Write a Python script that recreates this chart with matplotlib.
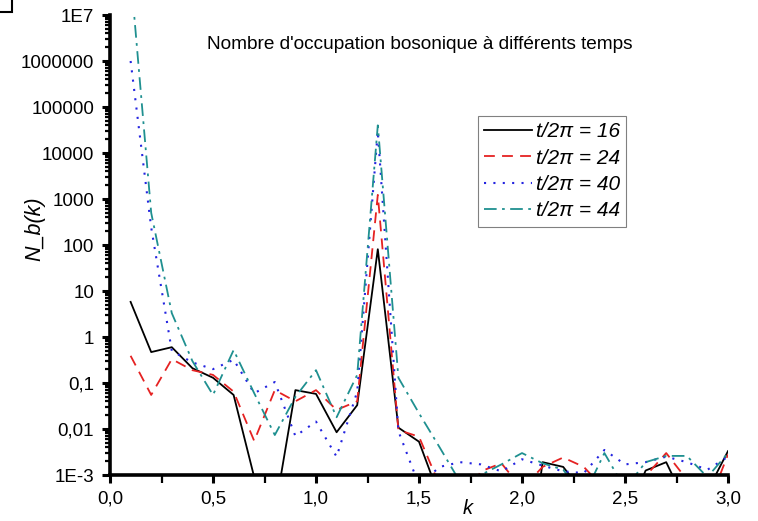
import numpy as np
import matplotlib
matplotlib.use("Agg")
import matplotlib.pyplot as plt
from matplotlib.ticker import LogLocator, MultipleLocator, NullFormatter
from matplotlib.patches import Rectangle

plt.rcParams['font.family'] = ['Liberation Sans', 'DejaVu Sans']

k = [0.1, 0.2, 0.3, 0.4, 0.5, 0.6, 0.7, 0.8, 0.9, 1.0,
     1.1, 1.2, 1.3, 1.4, 1.5, 1.6, 1.7, 1.8, 1.9, 2.0,
     2.1, 2.2, 2.3, 2.4, 2.5, 2.6, 2.7, 2.8, 2.9, 3.0]

# t/2pi = 16
nb16 = [5.8, 0.47, 0.6, 0.21, 0.13, 0.055, 9e-4, 1.6e-4, 0.07, 0.058,
        0.0085, 0.033, 81, 0.0107, 0.0053, 3.3e-4, 1e-4, 1e-4, 1e-4, 1e-6,
        0.0019, 0.0015, 4e-4, 1e-4, 1e-4, 0.00125, 0.0019, 2.2e-4, 4.5e-4, 0.0033]
# t/2pi = 24
nb24 = [0.39, 0.055, 0.33, 0.19, 0.15, 0.065, 0.0055, 0.07, 0.04, 0.07,
        0.026, 0.04, 1230, 0.0095, 0.0068, 6e-4, 2e-4, 0.0012, 0.0018, 5e-4,
        0.0015, 0.0024, 0.0015, 5e-4, 3e-4, 0.00095, 0.003, 8e-4, 2e-4, 0.0028]
# t/2pi = 40
nb40 = [1e6, 240, 0.5, 0.28, 0.2, 0.32, 0.06, 0.105, 0.007, 0.0145,
        0.0025, 0.065, 30000, 0.009, 6e-4, 0.0015, 0.0019, 0.0017, 0.0012, 0.0022,
        0.0016, 0.0012, 0.0011, 0.0035, 0.0017, 0.0019, 0.0025, 0.0019, 0.0013, 0.0025]
# t/2pi = 44
nb44 = [8e7, 500, 3.3, 0.3, 0.055, 0.52, 0.06, 0.0074, 0.05, 0.19,
        0.018, 0.15, 40000, 0.13, 0.022, 0.004, 7e-4, 0.001, 0.0017, 0.003,
        0.0018, 0.0013, 3.5e-4, 0.003, 5e-4, 0.0019, 0.0026, 0.0026, 9e-4, 0.003]

labels = ["t/2\u03c0 = 16", "t/2\u03c0 = 24", "t/2\u03c0 = 40", "t/2\u03c0 = 44"]

ytick_vals = [1e-3, 1e-2, 1e-1, 1, 10, 100, 1000, 1e4, 1e5, 1e6, 1e7]
ytick_labels = ["1E-3", "0,01", "0,1", "1", "10", "100", "1000", "10000",
                "100000", "1000000", "1E7"]
xtick_vals = [0.0, 0.5, 1.0, 1.5, 2.0, 2.5, 3.0]
xtick_labels = ["0,0", "0,5", "1,0", "1,5", "2,0", "2,5", "3,0"]

fig = plt.figure(figsize=(7.58, 5.21), dpi=100)
ax = fig.add_axes([110/758, 46/521, 618/758, 460/521])

ax.plot(k, nb16, color='black', lw=1.3, ls='-', label=labels[0])
ax.plot(k, nb24, color='#e52222', lw=1.3, ls=(0, (6, 4)), label=labels[1])
ax.plot(k, nb40, color='#2424e0', lw=1.5, ls=(0, (1, 3.5)), label=labels[2])
ax.plot(k, nb44, color='#1f9090', lw=1.3, ls=(0, (7, 3, 1.5, 3)), label=labels[3])

ax.set_yscale('log')
ax.set_xlim(0, 3.0)
ax.set_ylim(1e-3, 1e7)

ax.set_yticks(ytick_vals)
ax.set_yticklabels(ytick_labels)
ax.yaxis.set_minor_locator(LogLocator(base=10, subs=np.arange(2, 10), numticks=100))
ax.yaxis.set_minor_formatter(NullFormatter())
ax.set_xticks(xtick_vals)
ax.set_xticklabels(xtick_labels)
ax.xaxis.set_minor_locator(MultipleLocator(0.25))

for s in ['top', 'right']:
    ax.spines[s].set_visible(False)
for s in ['left', 'bottom']:
    ax.spines[s].set_linewidth(2.6)

ax.tick_params(axis='both', which='major', direction='out', length=5.5, width=2.2,
               labelsize=13.5, pad=3)
ax.tick_params(axis='y', which='major', pad=6)
ax.tick_params(axis='x', which='major', pad=6)
ax.tick_params(axis='both', which='minor', direction='out', length=3.5, width=1.6)
ax.tick_params(axis='x', which='both', length=5.5)

ax.set_xlabel('k', fontsize=14.5, style='italic')
ax.xaxis.set_label_coords(0.579, -0.052)
ax.set_ylabel('N_b(k)', fontsize=15.5, style='italic')
ax.yaxis.set_label_coords(-0.105, 0.535)

ax.text(0.502, 0.935, "Nombre d'occupation bosonique \u00e0 diff\u00e9rents temps",
        transform=ax.transAxes, ha='center', va='center', fontsize=13.7)

leg = ax.legend(loc='upper left', bbox_to_anchor=(0.595, 0.78), frameon=True,
                fancybox=False, edgecolor='#808080', framealpha=1,
                prop={'style': 'italic', 'size': 15}, handlelength=2.3,
                handletextpad=0.2, labelspacing=0.35, borderpad=0.3,
                borderaxespad=0)
leg.get_frame().set_linewidth(0.8)

# small box fragment at the top-left corner
fig.patches.append(Rectangle((-0.01, 1 - 12/521), 12/758 + 0.01, 12/521 + 0.01,
                             transform=fig.transFigure, fill=False,
                             edgecolor='black', lw=1.5))

fig.savefig('out.png', dpi=100)
